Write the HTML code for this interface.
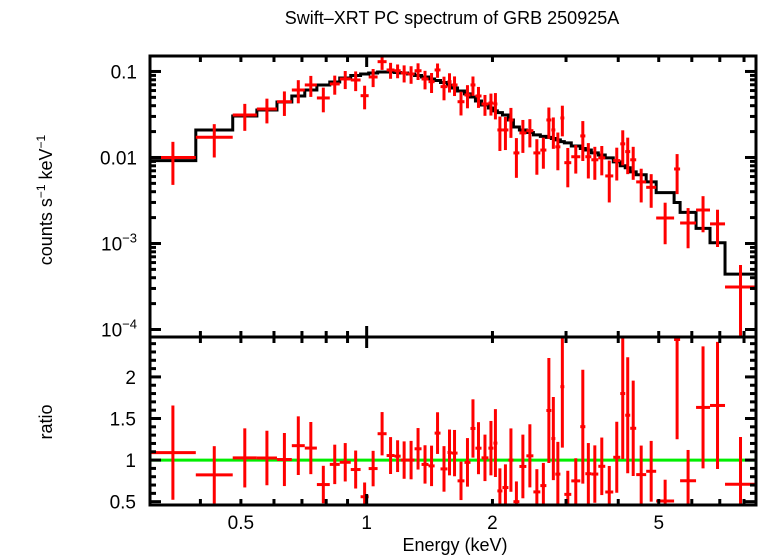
<!DOCTYPE html>
<html><head><meta charset="utf-8"><style>
html,body{margin:0;padding:0;background:#fff;}
svg{display:block;font-family:"Liberation Sans",sans-serif;}
</style></head><body>
<svg id="chart" width="758" height="556" viewBox="0 0 758 556" xmlns="http://www.w3.org/2000/svg">
<text x="452" y="24" font-size="18" text-anchor="middle">Swift–XRT PC spectrum of GRB 250925A</text>
<text transform="translate(52,200) rotate(-90)" font-size="18" text-anchor="middle">counts s<tspan dy="-7" font-size="12">−1</tspan><tspan dy="7"> keV</tspan><tspan dy="-7" font-size="12">−1</tspan></text>
<text transform="translate(52,422) rotate(-90)" font-size="18" text-anchor="middle">ratio</text>
<text x="455" y="551" font-size="18" text-anchor="middle">Energy (keV)</text>
<defs>
<clipPath id="clipTop"><rect x="150" y="56" width="606" height="281"/></clipPath>
<clipPath id="clipBot"><rect x="150" y="337" width="606" height="168"/></clipPath>
</defs>
<g id="gTop" clip-path="url(#clipTop)"></g>
<g id="gBot" clip-path="url(#clipBot)"></g>
<g id="gAxes"></g>
</svg>
<script>
const edges=[0.303,0.390,0.478,0.546,0.610,0.662,0.711,0.760,0.816,0.862,0.916,0.967,1.011,1.062,1.116,1.166,1.206,1.253,1.302,1.353,1.406,1.454,1.502,1.561,1.596,1.650,1.714,1.772,1.821,1.883,1.956,2.011,2.055,2.113,2.184,2.245,2.320,2.411,2.506,2.604,2.692,2.767,2.828,2.908,2.972,3.088,3.245,3.337,3.449,3.584,3.724,3.892,4.045,4.157,4.273,4.416,4.666,4.930,5.442,5.625,6.142,6.633,7.205,8.546];
const counts=[0.0100,0.0172,0.0312,0.0366,0.0445,0.0609,0.0697,0.0492,0.0716,0.0818,0.0796,0.0523,0.0863,0.130,0.1041,0.102,0.0961,0.0935,0.102,0.0818,0.0761,0.1041,0.0666,0.0761,0.0697,0.0445,0.0533,0.0697,0.0519,0.0419,0.0430,0.0419,0.0209,0.0209,0.0273,0.0113,0.0193,0.0205,0.0113,0.0122,0.0273,0.0209,0.0133,0.0288,0.0087,0.0102,0.0178,0.0102,0.0094,0.0099,0.0061,0.0092,0.0144,0.0117,0.0094,0.0052,0.0045,0.00198,0.00735,0.00173,0.00245,0.00169,0.000312];
const errors=[0.0052,0.0072,0.0108,0.0117,0.0141,0.0183,0.0191,0.0157,0.0179,0.0194,0.0205,0.016,0.0205,0.0257,0.0219,0.0186,0.0216,0.0216,0.0224,0.0199,0.0199,0.0197,0.0204,0.0192,0.0179,0.0137,0.016,0.0177,0.0142,0.0114,0.0123,0.0142,0.009,0.0087,0.0104,0.0055,0.008,0.0074,0.005,0.0048,0.0108,0.0083,0.0062,0.0112,0.0042,0.0037,0.0087,0.0045,0.0039,0.0037,0.0031,0.0038,0.0063,0.0053,0.0039,0.0022,0.0019,0.001,0.0036,0.00085,0.0011,0.00078,0.00025];
const model=[0.00918,0.0209,0.0304,0.0357,0.0442,0.0519,0.0609,0.0697,0.0755,0.084,0.0898,0.0935,0.0961,0.0987,0.0987,0.0974,0.0961,0.0935,0.0898,0.0863,0.0818,0.0786,0.0745,0.0697,0.0643,0.0593,0.0548,0.0505,0.0454,0.0408,0.0376,0.0348,0.0332,0.0312,0.0273,0.0226,0.0209,0.0195,0.0183,0.0176,0.0171,0.0166,0.016,0.0153,0.0148,0.0136,0.0127,0.0122,0.0113,0.0107,0.0099,0.0089,0.008,0.0076,0.0068,0.0063,0.0052,0.0039,0.0030,0.0023,0.0015,0.00102,0.00044];
const xTickLabels=["0.5","1","2","5"];
const xTickValues=[0.5,1,2,5];
const ratioTickValues=[0.5,1,1.5,2];
const ratioTickLabels=["0.5","1","1.5","2"];
const countTickValues=[0.1,0.01,0.001,0.0001];

const NS="http://www.w3.org/2000/svg";
const X0=150,X1=756,YT0=56,YT1=337,YB1=505;
const EMIN=0.3030,EMAX=8.546;
function xs(e){return X0+(Math.log10(e)-Math.log10(EMIN))/(Math.log10(EMAX)-Math.log10(EMIN))*(X1-X0);}
const CMAX=0.1513,CMIN=0.0000818;
function ys(c){c=Math.max(c,1e-7);return YT0+(Math.log10(CMAX)-Math.log10(c))/(Math.log10(CMAX)-Math.log10(CMIN))*(YT1-YT0);}
const RMIN=0.46,RMAX=2.48;
function yr(r){return YT1+(RMAX-r)/(RMAX-RMIN)*(YB1-YT1);}
function el(tag,attrs,parent){const e=document.createElementNS(NS,tag);for(const k in attrs)e.setAttribute(k,attrs[k]);parent.appendChild(e);return e;}
const gTop=document.getElementById('gTop'),gBot=document.getElementById('gBot'),gAx=document.getElementById('gAxes');
const RED="#ff0000";
let d="";
for(let i=0;i<model.length;i++){const y=ys(model[i]);d+=(i==0?"M":"L")+xs(edges[i])+","+y+"L"+xs(edges[i+1])+","+y;}
const mp=el('path',{d:d,fill:"none",stroke:"#000","stroke-width":3},gTop);


const gl=el('line',{x1:X0,x2:X1,y1:yr(1),y2:yr(1),stroke:"#00ee00","stroke-width":3},gBot);


for(let i=0;i<counts.length;i++){
  const xl=xs(edges[i]),xh=xs(edges[i+1]),xc=xs(Math.sqrt(edges[i]*edges[i+1]));
  const g=el('g',{stroke:RED,"stroke-width":3},gTop);
  
  
  el('line',{x1:xl,x2:xh,y1:ys(counts[i]),y2:ys(counts[i])},g);
  el('line',{x1:xc,x2:xc,y1:ys(counts[i]+errors[i]),y2:ys(Math.max(counts[i]-errors[i],1e-7))},g);
  const r=counts[i]/model[i],re=errors[i]/model[i];
  const g2=el('g',{stroke:RED,"stroke-width":3},gBot);
  
  
  el('line',{x1:xl,x2:xh,y1:yr(r),y2:yr(r)},g2);
  el('line',{x1:xc,x2:xc,y1:yr(r+re),y2:yr(r-re)},g2);
}
[[YT0,YT1],[YT1,YB1]].forEach((p,k)=>{
  const f=el('rect',{x:X0,y:p[0],width:X1-X0,height:p[1]-p[0],fill:"none",stroke:"#000","stroke-width":3},gAx);
  
  
});
function tick(x1,y1,x2,y2){el('line',{x1:x1,y1:y1,x2:x2,y2:y2,stroke:"#000","stroke-width":3},gAx);}
const xt=[0.4,0.5,0.6,0.7,0.8,0.9,1,2,3,4,5,6,7,8];
xt.forEach(e=>{const x=xs(e),L=(e==1)?11:6;
  [[YT0,1],[YT1,-1],[YT1,1],[YB1,-1]].forEach(p=>tick(x,p[0],x,p[0]+p[1]*L));});
xTickValues.forEach((v,i)=>{const t=el('text',{x:xs(v),y:529,"font-size":19,"text-anchor":"middle"},gAx);t.textContent=xTickLabels[i];
  
  });
for(let dcd=-4;dcd<=-1;dcd++){for(let m=1;m<10;m++){const v=m*Math.pow(10,dcd);if(v>CMAX||v<CMIN)continue;const y=ys(v),L=m==1?11:6;tick(X0,y,X0+L,y);tick(X1,y,X1-L,y);}}
const cl=[["0.1",null],["0.01",null],["10","−3"],["10","−4"]];
countTickValues.forEach((v,i)=>{const t=el('text',{x:137,y:ys(v)+7,"font-size":19,"text-anchor":"end"},gAx);
  if(cl[i][1]){t.textContent=cl[i][0];const s=el('tspan',{dy:-8,"font-size":13},t);s.textContent=cl[i][1];}else t.textContent=cl[i][0];
  
  });
for(let v=0.5;v<=2.45;v+=0.1){const vv=Math.round(v*10)/10;const y=yr(vv),L=(Math.abs(vv*2-Math.round(vv*2))<1e-6)?11:6;tick(X0,y,X0+L,y);tick(X1,y,X1-L,y);}
ratioTickValues.forEach((v,i)=>{const t=el('text',{x:136,y:yr(v)+7,"font-size":19,"text-anchor":"end"},gAx);t.textContent=ratioTickLabels[i];
  
  });
</script>
</body></html>
